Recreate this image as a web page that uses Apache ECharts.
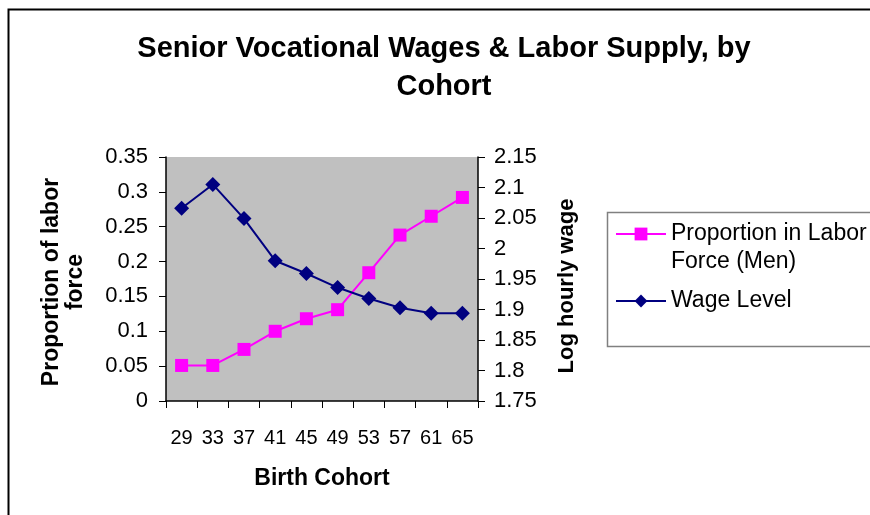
<!DOCTYPE html>
<html>
<head>
<meta charset="utf-8">
<script src="https://cdn.jsdelivr.net/npm/echarts@6/dist/echarts.min.js"></script>
<style>
  html, body { margin: 0; padding: 0; background: #fff; }
  #main { width: 870px; height: 515px; }
</style>
</head>
<body>
<div id="main"></div>
<script>
  // birth cohorts
  var cohorts = ['29', '33', '37', '41', '45', '49', '53', '57', '61', '65'];
  // proportion in labor force (men), left axis
  var laborShare = [0.051, 0.051, 0.074, 0.100, 0.118, 0.131, 0.184, 0.238, 0.265, 0.292];
  // log hourly wage, right axis
  var wageLevel = [2.066, 2.105, 2.049, 1.980, 1.959, 1.936, 1.918, 1.903, 1.894, 1.894];

  var font = 'Liberation Sans, Arial, sans-serif';
  var fmt = function (v) { return String(+v.toFixed(2)); };
  var laborName = 'Proportion in Labor\nForce (Men)';

  var chart = echarts.init(document.getElementById('main'));
  var option = {
    backgroundColor: '#fff',
    animation: false,
    textStyle: { fontFamily: font, color: '#000' },
    graphic: [{
      // outer chart frame
      type: 'rect',
      shape: { x: 8.5, y: 9.5, width: 900, height: 600 },
      style: { fill: 'none', stroke: '#000', lineWidth: 2 }
    }, {
      // legend box
      type: 'rect',
      shape: { x: 607.5, y: 212.5, width: 300, height: 134 },
      style: { fill: 'none', stroke: '#808080', lineWidth: 1.5 },
      z: 0
    }],
    title: {
      text: 'Senior Vocational Wages & Labor Supply, by\nCohort',
      left: 439,
      top: 25,
      textAlign: 'center',
      textStyle: { fontFamily: font, fontSize: 29, fontWeight: 'bold', color: '#000', lineHeight: 38 }
    },
    grid: {
      left: 166, top: 157, width: 312, height: 244,
      show: true, backgroundColor: '#c0c0c0', borderWidth: 0
    },
    legend: {
      orient: 'vertical',
      left: 615,
      top: 192,
      padding: 0,
      itemWidth: 50,
      itemHeight: 16,
      itemGap: 11,
      textStyle: { fontFamily: font, fontSize: 23, color: '#000', lineHeight: 28 },
      // blank first line keeps the icon level with the first text line
      formatter: function (name) { return name === laborName ? '\n' + name : name; },
      data: [laborName, 'Wage Level']
    },
    xAxis: {
      type: 'category',
      data: cohorts,
      boundaryGap: true,
      name: 'Birth Cohort',
      nameLocation: 'middle',
      nameGap: 66,
      nameTextStyle: { fontFamily: font, fontSize: 23, fontWeight: 'bold', color: '#000' },
      axisLine: { lineStyle: { color: '#000', width: 1.5 } },
      axisTick: { show: true, length: 7, alignWithLabel: false, lineStyle: { color: '#000' } },
      axisLabel: { fontFamily: font, fontSize: 20, color: '#000', margin: 27, interval: 0 },
      splitLine: { show: false }
    },
    yAxis: [{
      type: 'value',
      position: 'left',
      min: 0, max: 0.35, interval: 0.05,
      name: 'Proportion of labor\nforce',
      nameLocation: 'middle',
      nameGap: 78,
      nameRotate: 90,
      nameTextStyle: { fontFamily: font, fontSize: 23, fontWeight: 'bold', color: '#000', lineHeight: 24, padding: [0, 6, 0, 0] },
      axisLine: { show: true, lineStyle: { color: '#000', width: 1.5 } },
      axisTick: { show: true, length: 7, lineStyle: { color: '#000' } },
      axisLabel: { fontFamily: font, fontSize: 22, color: '#000', margin: 18, formatter: fmt },
      splitLine: { show: false }
    }, {
      type: 'value',
      position: 'right',
      min: 1.75, max: 2.15, interval: 0.05,
      name: 'Log hourly wage',
      nameLocation: 'middle',
      nameGap: 78,
      nameRotate: 90,
      nameTextStyle: { fontFamily: font, fontSize: 22, fontWeight: 'bold', color: '#000', padding: [0, 14, 0, 0] },
      axisLine: { show: true, lineStyle: { color: '#000', width: 1.5 } },
      axisTick: { show: true, length: 7, lineStyle: { color: '#000' } },
      axisLabel: { fontFamily: font, fontSize: 22, color: '#000', margin: 16, formatter: fmt },
      splitLine: { show: false }
    }],
    series: [{
      name: laborName,
      type: 'line',
      yAxisIndex: 0,
      data: laborShare,
      symbol: 'rect',
      symbolSize: 13,
      itemStyle: { color: '#ff00ff' },
      lineStyle: { color: '#ff00ff', width: 2 }
    }, {
      name: 'Wage Level',
      type: 'line',
      yAxisIndex: 1,
      data: wageLevel,
      symbol: 'diamond',
      symbolSize: 15,
      itemStyle: { color: '#000080' },
      lineStyle: { color: '#000080', width: 2 }
    }]
  };
  chart.setOption(option);
</script>
</body>
</html>
